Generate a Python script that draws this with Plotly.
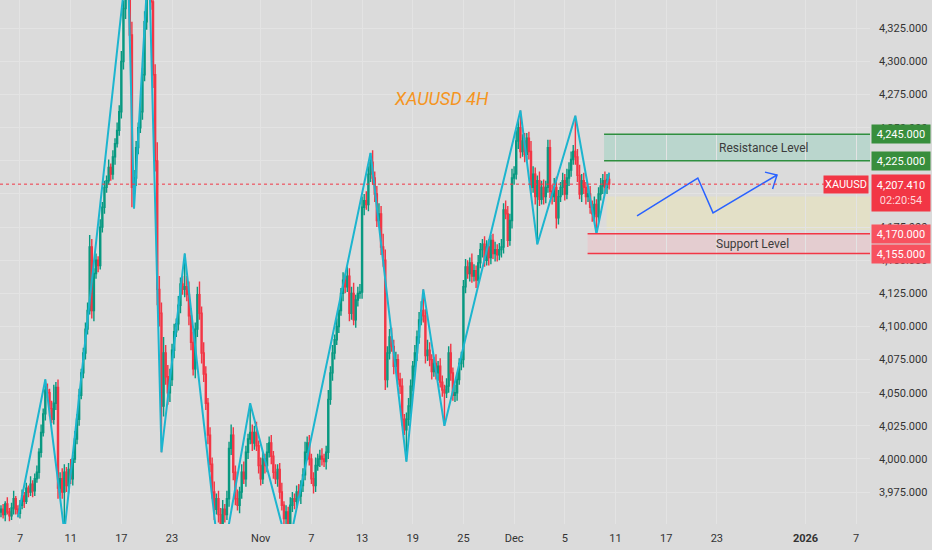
import plotly.graph_objects as go

# XAUUSD 4H closes, bar 0 sits 1.5 trading days before Oct 7 (10 bars per row)
close = [
    3962, 3958, 3966, 3960, 3957, 3963, 3970, 3962, 3959, 3965,
    3972, 3968, 3978, 3975, 3981, 3976, 3985, 3990, 4005, 4020,
    4034, 4052, 4050, 4038, 4030, 4042, 4054, 3978, 3985, 3975,
    3990, 3980, 3992, 3985, 4000, 4015, 4030, 4048, 4065, 4080,
    4098, 4112, 4160, 4112, 4140, 4150, 4146, 4175, 4190, 4205,
    4210, 4220, 4215, 4228, 4238, 4248, 4262, 4300, 4340, 4372,
    4365, 4320, 4205, 4212, 4235, 4250, 4262, 4290, 4330, 4368,
    4372, 4345, 4290, 4225, 4128, 4110, 4040, 4080, 4062, 4050,
    4060, 4082, 4096, 4102, 4116, 4132, 4128, 4130, 4124, 4108,
    4088, 4068, 4098, 4124, 4110, 4080, 4064, 4042, 4018, 3996,
    3975, 3962, 3970, 3958, 3950, 3962, 3958, 3970, 4008, 4018,
    3990, 3970, 3965, 3975, 3990, 3985, 4005, 4015, 4020, 4012,
    4020, 4010, 3995, 3985, 4000, 3995, 4005, 4012, 4002, 3990,
    3985, 3992, 3975, 3965, 3955, 3960, 3948, 3965, 3970, 3968,
    3975, 3972, 3980, 3988, 4005, 4012, 4000, 3985, 3980, 3995,
    4000, 4002, 4000, 3998, 4005, 4045, 4065, 4080, 4090, 4100,
    4112, 4125, 4135, 4130, 4138, 4110, 4125, 4105, 4120, 4125,
    4126, 4190, 4195, 4192, 4215, 4224, 4212, 4200, 4180, 4185,
    4160, 4150, 4060, 4080, 4092, 4085, 4070, 4075, 4060, 4055,
    4030, 4022, 4030, 4040, 4055, 4070, 4080, 4092, 4105, 4112,
    4108, 4078, 4082, 4075, 4066, 4072, 4065, 4070, 4058, 4052,
    4050, 4055, 4080, 4065, 4048, 4050, 4060, 4072, 4075, 4130,
    4145, 4140, 4148, 4138, 4142, 4135, 4148, 4158, 4162, 4150,
    4160, 4152, 4165, 4155, 4158, 4154, 4158, 4160, 4188, 4185,
    4165, 4180, 4212, 4215, 4240, 4250, 4232, 4240, 4230, 4242,
    4232, 4205, 4215, 4198, 4210, 4196, 4205, 4198, 4205, 4235,
    4202, 4198, 4205, 4182, 4198, 4205, 4210, 4200, 4212, 4218,
    4226, 4232, 4228, 4214, 4200, 4210, 4205, 4198, 4200, 4190,
    4185, 4192, 4183, 4200, 4206, 4210, 4205, 4211, 4207.41,
]
# wick length above / below the candle body
wick_up = [
    3, 4, 2, 5, 3, 4, 6, 2, 3, 4,
    5, 3, 4, 2, 6, 3, 4, 5, 3, 6,
    4, 8, 5, 3, 6, 14, 4, 6, 5, 8,
    6, 4, 5, 8, 3, 6, 4, 5, 3, 4,
    5, 6, 9, 6, 4, 5, 3, 6, 4, 5,
    4, 6, 3, 5, 4, 6, 5, 8, 6, 6,
    9, 8, 10, 6, 5, 4, 6, 5, 8, 6,
    9, 10, 12, 8, 14, 10, 8, 12, 6, 9,
    8, 5, 6, 4, 7, 5, 6, 25, 8, 10,
    6, 8, 5, 6, 10, 5, 8, 6, 4, 6,
    5, 8, 4, 6, 5, 7, 4, 6, 5, 8,
    6, 5, 7, 4, 6, 8, 5, 4, 22, 6,
    5, 8, 4, 6, 5, 4, 7, 5, 6, 4,
    6, 4, 5, 7, 3, 5, 4, 6, 5, 4,
    5, 6, 4, 5, 8, 5, 6, 4, 5, 6,
    4, 5, 6, 4, 5, 7, 5, 6, 4, 6,
    5, 4, 6, 5, 7, 6, 5, 8, 4, 5,
    6, 8, 5, 7, 6, 7, 9, 5, 6, 8,
    6, 10, 8, 5, 6, 7, 5, 6, 4, 5,
    6, 4, 5, 6, 5, 4, 6, 5, 6, 7,
    16, 5, 8, 6, 4, 5, 7, 4, 6, 5,
    4, 6, 5, 7, 4, 6, 5, 4, 6, 5,
    6, 5, 4, 7, 5, 4, 6, 5, 4, 6,
    5, 6, 4, 5, 6, 4, 5, 6, 5, 7,
    6, 5, 7, 6, 8, 6, 13, 5, 6, 4,
    5, 8, 6, 5, 4, 7, 5, 6, 5, 6,
    6, 5, 7, 8, 5, 4, 6, 5, 7, 6,
    6, 5, 27, 6, 8, 5, 6, 4, 5, 6,
    5, 6, 4, 5, 6, 5, 7, 4, 5,
]
wick_dn = [
    4, 3, 5, 2, 4, 3, 5, 4, 3, 4,
    3, 5, 2, 4, 3, 5, 4, 3, 5, 4,
    3, 5, 4, 6, 3, 4, 5, 8, 6, 5,
    30, 5, 6, 4, 5, 3, 4, 5, 3, 4,
    5, 4, 3, 6, 8, 4, 5, 3, 4, 5,
    4, 3, 5, 4, 6, 3, 4, 5, 6, 8,
    6, 5, 15, 16, 6, 5, 4, 6, 5, 6,
    8, 6, 10, 8, 12, 10, 35, 8, 6, 9,
    7, 5, 6, 4, 5, 6, 4, 6, 5, 7,
    6, 5, 7, 6, 5, 8, 6, 5, 7, 6,
    5, 8, 4, 6, 35, 5, 6, 4, 6, 5,
    6, 5, 4, 6, 5, 4, 6, 5, 4, 6,
    5, 4, 6, 5, 4, 6, 5, 4, 6, 5,
    4, 6, 5, 4, 6, 5, 16, 4, 5, 6,
    5, 4, 6, 5, 4, 6, 5, 4, 6, 5,
    4, 6, 5, 4, 6, 5, 4, 6, 5, 4,
    5, 4, 6, 5, 4, 6, 5, 4, 6, 5,
    4, 5, 6, 4, 5, 6, 5, 6, 5, 4,
    6, 5, 8, 6, 5, 4, 6, 5, 4, 6,
    5, 4, 24, 5, 6, 4, 5, 6, 5, 4,
    5, 6, 4, 5, 6, 4, 5, 6, 4, 5,
    25, 4, 5, 6, 4, 5, 6, 4, 5, 6,
    5, 4, 6, 5, 4, 6, 5, 4, 6, 5,
    4, 6, 5, 4, 6, 5, 4, 6, 5, 4,
    5, 4, 6, 5, 4, 6, 5, 4, 6, 5,
    6, 5, 4, 6, 36, 5, 4, 6, 5, 4,
    5, 6, 4, 8, 5, 4, 6, 5, 4, 6,
    5, 4, 6, 5, 4, 6, 5, 6, 4, 5,
    6, 5, 13, 4, 5, 6, 4, 5, 4,
]
first_open = 3960

bars_per_day = 6
start_day = -1.5  # trading days relative to Oct 7

# zigzag swing points (bar index, price)
zz_bar = [8, 21, 30, 60, 63, 70, 76, 87, 104, 118, 136, 175, 192, 200, 210, 246, 254, 272, 282, 288]
zz_price = [3956, 4060, 3945, 4381, 4189, 4381, 4005, 4155, 3915, 4042, 3932, 4231, 3998, 4128, 4025,
            4263, 4162, 4259, 4170, 4216]

# projected path drawing (trading days, price)
arrow_x = [48.7, 53.5, 54.7, 59.75]
arrow_y = [4183.5, 4212.0, 4185.7, 4214.3]
head_x = [58.8, 59.75, 59.4]
head_y = [4216.5, 4214.3, 4203.8]

tick_days = [0, 4, 8, 12, 19, 23, 27, 31, 35, 39, 43, 47, 51, 55, 62, 66]
tick_text = ["7", "11", "17", "23", "Nov", "7", "13", "19", "25", "Dec", "5", "11", "17", "23",
             "<b>2026</b>", "7"]

last_price = 4207.41
countdown = "02:20:54"
resistance = [4225, 4245]
support = [4155, 4170]
pullback_zone = [4173, 4198]
resistance_start = 46.1
support_start = 44.8
pullback_start = 46.3

x_range = [-1.578, 67.09]
y_range = [3950.9, 4346.4]

UP = "#089981"
DOWN = "#f23645"
BG = "#dbdbdb"
GRID = "#e3e3e3"
FONT = "Roboto"

opens = [first_open] + close[:-1]
highs = [max(o, c) + w for o, c, w in zip(opens, close, wick_up)]
lows = [min(o, c) - w for o, c, w in zip(opens, close, wick_dn)]
bar_x = [start_day + i / bars_per_day for i in range(len(close))]
zz_x = [start_day + i / bars_per_day for i in zz_bar]

fig = go.Figure()

# zones first so they sit under the candles
fig.add_shape(type="rect", x0=pullback_start, x1=x_range[1], y0=pullback_zone[0], y1=pullback_zone[1],
              fillcolor="#e3e0c7", line_width=0, layer="below")
fig.add_shape(type="rect", x0=resistance_start, x1=x_range[1], y0=resistance[0], y1=resistance[1],
              fillcolor="#bad6cd", line_width=0, layer="below")
fig.add_shape(type="rect", x0=support_start, x1=x_range[1], y0=support[0], y1=support[1],
              fillcolor="#e4cdd0", line_width=0, layer="below")
for lvl in resistance:
    fig.add_shape(type="line", x0=resistance_start, x1=x_range[1], y0=lvl, y1=lvl,
                  line=dict(color="#2f8f3f", width=1.5))
for lvl in support:
    fig.add_shape(type="line", x0=support_start, x1=x_range[1], y0=lvl, y1=lvl,
                  line=dict(color=DOWN, width=1.5))
fig.add_shape(type="line", x0=x_range[0], x1=x_range[1], y0=last_price, y1=last_price,
              line=dict(color=DOWN, width=1, dash="dot"))

fig.add_trace(go.Candlestick(
    x=bar_x, open=opens, high=highs, low=lows, close=close,
    increasing=dict(line=dict(color=UP, width=1.4), fillcolor=UP),
    decreasing=dict(line=dict(color=DOWN, width=1.4), fillcolor=DOWN),
    whiskerwidth=0, showlegend=False, hoverinfo="skip",
))
fig.add_trace(go.Scatter(x=zz_x, y=zz_price, mode="lines", line=dict(color="#1cb5cf", width=2),
                         showlegend=False, hoverinfo="skip"))
fig.add_trace(go.Scatter(x=arrow_x, y=arrow_y, mode="lines", line=dict(color="#2962ff", width=1.5),
                         showlegend=False, hoverinfo="skip"))
fig.add_trace(go.Scatter(x=head_x, y=head_y, mode="lines", line=dict(color="#2962ff", width=1.5),
                         showlegend=False, hoverinfo="skip"))

# chart title and zone labels
fig.add_annotation(x=0.507, y=0.836, xref="paper", yref="paper", showarrow=False,
                   text="<i>XAUUSD 4H</i>", font=dict(family=FONT, size=18, color="#f5951f"))
fig.add_annotation(x=58.7, y=sum(resistance) / 2, showarrow=False, text="Resistance Level",
                   font=dict(family=FONT, size=12, color="#3c3c3c"))
fig.add_annotation(x=57.8, y=sum(support) / 2, showarrow=False, text="Support Level",
                   font=dict(family=FONT, size=12, color="#3c3c3c"))


# price scale badges
def badge(price, text, color, height=16):
    fig.add_annotation(x=1, xref="paper", y=price, yref="y", xanchor="left", xshift=1,
                       showarrow=False, text=text, bgcolor=color, width=56, height=height,
                       borderpad=1, font=dict(family=FONT, size=11, color="white"))


badge(resistance[1], "4,245.000", "#388e3c")
badge(resistance[0], "4,225.000", "#388e3c")
badge(support[1], "4,170.000", "#f7525f")
badge(support[0], "4,155.000", "#f7525f")
fig.add_annotation(x=1, xref="paper", y=last_price, yref="y", xanchor="left", yanchor="top",
                   xshift=1, yshift=10, showarrow=False, bgcolor=DOWN, width=56, height=34,
                   borderpad=1, text=f"{last_price:,.3f}<br><span style='color:#ffd6da'>{countdown}</span>",
                   font=dict(family=FONT, size=11, color="white"))
fig.add_annotation(x=1, xref="paper", y=last_price, yref="y", xanchor="right", xshift=-1,
                   showarrow=False, bgcolor=DOWN, height=15, borderpad=1, text="XAUUSD",
                   font=dict(family=FONT, size=11, color="white"))

fig.update_layout(
    width=932, height=550,
    margin=dict(l=0, r=62, t=0, b=26),
    paper_bgcolor=BG, plot_bgcolor=BG,
    font=dict(family=FONT, size=11, color="#333333"),
    showlegend=False,
)
fig.update_xaxes(range=x_range, tickvals=tick_days, ticktext=tick_text, showgrid=True,
                 gridcolor=GRID, gridwidth=1, zeroline=False, showline=False, ticks="",
                 ticklabelstandoff=6, rangeslider_visible=False, fixedrange=True)
fig.update_yaxes(range=y_range, side="right", dtick=25, tick0=4000, tickformat=",.3f",
                 showgrid=True, gridcolor=GRID, gridwidth=1, zeroline=False, showline=False,
                 ticks="", ticklabelstandoff=8, fixedrange=True)

fig.write_html("out.html", config={"displayModeBar": False},
               post_script="document.body.style.margin='0';")
